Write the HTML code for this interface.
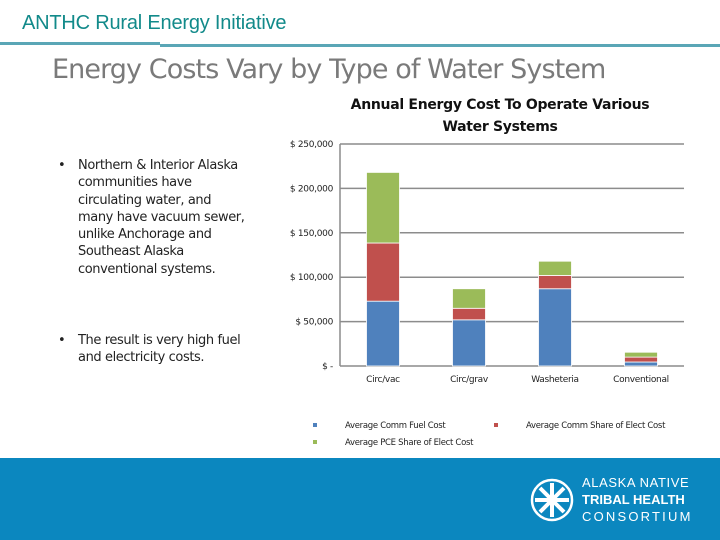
<!DOCTYPE html>
<html><head><meta charset="utf-8"><style>
body{margin:0;width:720px;height:540px;overflow:hidden;background:#fff;font-family:"Liberation Sans",sans-serif;position:relative}
.a{position:absolute}
</style></head><body>
<div class="a" style="left:22px;top:12px;font-size:20px;color:#128a8a;letter-spacing:-0.2px">ANTHC Rural Energy Initiative</div>
<div class="a" style="left:0;top:42px;width:160px;height:3px;background:#5aa6b6"></div>
<div class="a" style="left:160px;top:44px;width:560px;height:3px;background:#5aa6b6"></div>
<div class="a" style="left:52px;top:54px;font-size:27px;color:#7a7a7a;font-family:'DejaVu Sans',sans-serif;font-weight:normal;letter-spacing:-0.9px">Energy Costs Vary by Type of Water System</div>
<div class="a" style="left:58px;top:157px;width:196px;font-size:13px;line-height:17.3px;color:#222;font-family:'DejaVu Sans',sans-serif;letter-spacing:-0.4px">
<div style="position:relative;padding-left:20px"><span style="position:absolute;left:0">•</span>Northern &amp; Interior Alaska<br>communities have<br>circulating water, and<br>many have vacuum sewer,<br>unlike Anchorage and<br>Southeast Alaska<br>conventional systems.</div>
<div style="position:relative;padding-left:20px;margin-top:54px"><span style="position:absolute;left:0">•</span>The result is very high fuel<br>and electricity costs.</div>
</div>
<svg class="a" style="left:0;top:0" width="720" height="460" id="chart"></svg>
<div class="a" style="left:0;top:458px;width:720px;height:82px;background:#0b87bf"></div>
<svg class="a" style="left:530px;top:478px" width="44" height="44">
<circle cx="22" cy="22" r="20" fill="none" stroke="#fff" stroke-width="2.5"/>
<circle cx="22" cy="22" r="5" fill="#fff"/>
<g stroke="#fff" stroke-width="4"><line x1="22" y1="5" x2="22" y2="39"/><line x1="5" y1="22" x2="39" y2="22"/><line x1="10" y1="10" x2="34" y2="34"/><line x1="34" y1="10" x2="10" y2="34"/></g>
</svg>
<div class="a" style="left:582px;top:474px;color:#fff;font-size:13px;line-height:17px">
<div style="letter-spacing:0.6px">ALASKA NATIVE</div><div style="font-weight:bold">TRIBAL HEALTH</div><div style="letter-spacing:2.2px">CONSORTIUM</div></div>
<script>
const categories=["Circ/vac","Circ/grav","Washeteria","Conventional"];
const fuelCost=[73000,52000,87000,4500];
const elecCost=[65500,13000,15000,5500];
const pceShare=[79500,22000,16000,5500];
const yTicks=[0,50000,100000,150000,200000,250000];
const yTickLabels=["$ -","$ 50,000","$ 100,000","$ 150,000","$ 200,000","$ 250,000"];
const NS="http://www.w3.org/2000/svg";
const svg=document.getElementById('chart');
const x0=340,x1=684,yTop=144,yBot=366,yMax=250000;
const y=v=>yBot-(v/yMax)*(yBot-yTop);
const band=(x1-x0)/categories.length;
const xc=i=>x0+band*(i+0.5);
function mk(t,a){const e=document.createElementNS(NS,t);for(const k in a)e.setAttribute(k,a[k]);svg.appendChild(e);return e;}
const title=mk('text',{x:500,y:109,'text-anchor':'middle','font-size':14,'font-weight':'bold',fill:'#111','font-family':'DejaVu Sans, sans-serif'});


title.innerHTML='<tspan x="500" dy="0">Annual Energy Cost To Operate Various</tspan><tspan x="500" dy="22">Water Systems</tspan>';
title.setAttribute('letter-spacing','-0.3');
yTicks.forEach((t,i)=>{
 const g=mk('line',{x1:x0,x2:x1,y1:y(t),y2:y(t),stroke:'#8c8c8c','stroke-width':1.5});
 
 
 const l=mk('text',{x:333,y:y(t)+3,'text-anchor':'end','font-size':9,fill:'#222','font-family':'DejaVu Sans, sans-serif','letter-spacing':'-0.3'});
 
 
 l.textContent=yTickLabels[i];
});
const ax=mk('line',{x1:x0,x2:x0,y1:yTop,y2:yBot,stroke:'#8c8c8c','stroke-width':1.5});


const series=[[fuelCost,'#4f81bd','bar-fuel'],[elecCost,'#c0504d','bar-elect'],[pceShare,'#9bbb59','bar-pce']];
const bw=33;
categories.forEach((c,i)=>{
 let base=0;
 series.forEach(([arr,col,nm])=>{
  const top=base+arr[i];
  const r=mk('rect',{x:xc(i)-bw/2,y:y(top),width:bw,height:y(base)-y(top),fill:col,stroke:'#fff','stroke-width':0.8});
  
  
  base=top;
 });
 const t=mk('text',{x:xc(i),y:382,'text-anchor':'middle','font-size':9,fill:'#222','font-family':'DejaVu Sans, sans-serif','letter-spacing':'-0.3'});
 
 
 t.textContent=c;
});
const leg=[[313,427,'#4f81bd','Average Comm Fuel Cost'],[494,427,'#c0504d','Average Comm Share of Elect Cost'],[313,444,'#9bbb59','Average PCE Share of Elect Cost']];
leg.forEach(([lx,ly,col,txt])=>{
 const s=mk('rect',{x:lx,y:ly-4,width:4,height:4,fill:col});
 
 
 const t=mk('text',{x:lx+32,y:ly+1,'font-size':8.5,fill:'#222','font-family':'DejaVu Sans, sans-serif','letter-spacing':'-0.3'});
 
 
 t.textContent=txt;
});
</script>
</body></html>
